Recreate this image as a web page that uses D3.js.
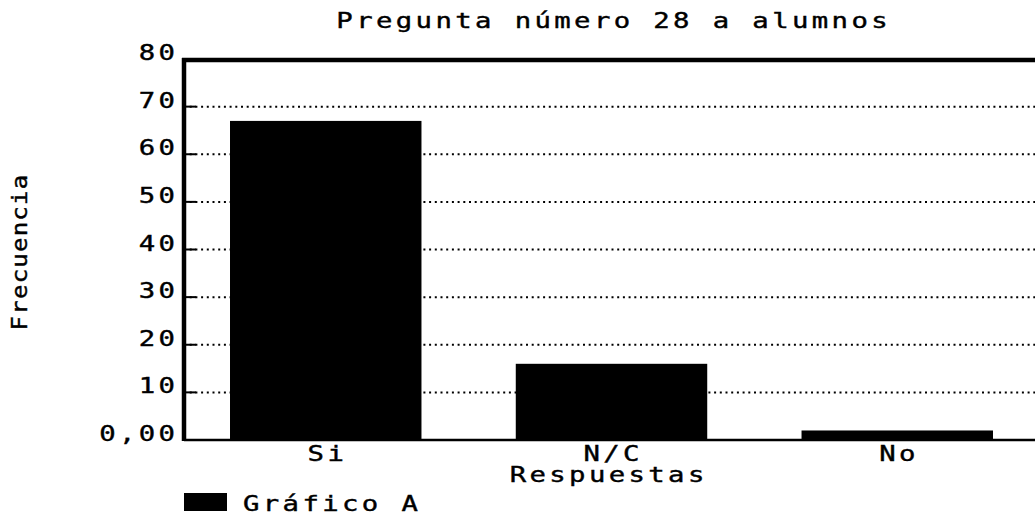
<!DOCTYPE html>
<html>
<head>
<meta charset="utf-8">
<script src="https://cdn.jsdelivr.net/npm/d3@7"></script>
<style>
  body { margin: 0; background: #fff; }
  text { font-family: "DejaVu Sans Mono", monospace; font-weight: normal; fill: #000; stroke: #000; stroke-width: 0.4px; }
</style>
</head>
<body>
<svg width="1035" height="517"></svg>
<script>
// chart data
const categories = ["Si", "N/C", "No"];
const values = [67, 16, 2];
const yTicks = [0, 10, 20, 30, 40, 50, 60, 70, 80];
const yTickLabels = ["0,00", "10", "20", "30", "40", "50", "60", "70", "80"];
const title = "Pregunta número 28 a alumnos";
const xTitle = "Respuestas";
const yTitle = "Frecuencia";
const seriesName = "Gráfico A";

const svg = d3.select("svg"),
    margin = {top: 59, right: -4, bottom: 77, left: 184},
    width = 1035 - margin.left - margin.right,
    height = 517 - margin.top - margin.bottom;

// blocky old plotter font: stretched glyphs, wide spacing
const fs = 21, sx = 1.3, ls = 2.6;

// put a stretched text at x,y (x,y in page pixels)
function place(sel, px, py) {
  sel.attr("transform", "translate(" + px + "," + py + ") scale(" + sx + ",1)")
     .style("font-size", fs + "px")
     .style("letter-spacing", ls + "px");
  return sel;
}

let x = d3.scaleBand()
    .domain(categories)
    .range([margin.left, margin.left + width])
    .paddingInner(0.33)
    .paddingOuter(0.161);

let y = d3.scaleLinear()
    .domain([0, 80])
    .range([margin.top + height, margin.top]);

// dotted gridlines with a short solid stub at the axis
const grid = svg.append("g").attr("class", "grid");
yTicks.filter(t => t > 0 && t < 80).forEach(t => {
  grid.append("line")
      .attr("x1", margin.left).attr("x2", margin.left + width)
      .attr("y1", y(t)).attr("y2", y(t))
      .attr("stroke", "#000").attr("stroke-width", 2)
      .attr("stroke-dasharray", "2,3.7");
  grid.append("line")
      .attr("x1", margin.left).attr("x2", margin.left + 12)
      .attr("y1", y(t)).attr("y2", y(t))
      .attr("stroke", "#000").attr("stroke-width", 2);
});

// bars
svg.append("g").selectAll("rect")
    .data(categories)
    .enter().append("rect")
    .attr("x", d => x(d))
    .attr("width", x.bandwidth())
    .attr("y", (d, i) => y(values[i]))
    .attr("height", (d, i) => y(0) - y(values[i]))
    .attr("fill", "#000");

// frame: thick left and top, thinner bottom
svg.append("line")
    .attr("x1", margin.left).attr("x2", margin.left + width)
    .attr("y1", y(0)).attr("y2", y(0))
    .attr("stroke", "#000").attr("stroke-width", 2.5);
svg.append("line")
    .attr("x1", margin.left - 2).attr("x2", margin.left + width)
    .attr("y1", y(80) + 1).attr("y2", y(80) + 1)
    .attr("stroke", "#000").attr("stroke-width", 4.5);
svg.append("line")
    .attr("x1", margin.left).attr("x2", margin.left)
    .attr("y1", y(80) - 1).attr("y2", y(0) + 1)
    .attr("stroke", "#000").attr("stroke-width", 4.5);

// y tick labels
svg.append("g").selectAll("text")
    .data(yTicks)
    .enter().append("text")
    .attr("text-anchor", "end")
    .each(function(d) { place(d3.select(this), margin.left - 9 + ls * sx, y(d) + 1); })
    .text((d, i) => yTickLabels[i]);

// x tick labels
svg.append("g").selectAll("text")
    .data(categories)
    .enter().append("text")
    .attr("text-anchor", "middle")
    .each(function(d) { place(d3.select(this), x(d) + x.bandwidth() / 2 + ls * sx / 2, y(0) + 21); })
    .text(d => d);

// titles
place(svg.append("text"), 612 + ls * sx / 2, 28)
    .attr("text-anchor", "middle")
    .text(title);

place(svg.append("text"), 607 + ls * sx / 2, y(0) + 42)
    .attr("text-anchor", "middle")
    .text(xTitle);

svg.append("text")
    .attr("transform", "translate(27,252) rotate(-90) scale(1.15,1)")
    .attr("text-anchor", "middle")
    .style("font-size", fs + "px")
    .style("letter-spacing", "1px")
    .text(yTitle);

// legend
const legend = svg.append("g");
legend.append("rect")
    .attr("x", margin.left).attr("y", 493)
    .attr("width", 43).attr("height", 18)
    .attr("fill", "#000");
place(legend.append("text"), 243, 511)
    .text(seriesName);
</script>
</body>
</html>
